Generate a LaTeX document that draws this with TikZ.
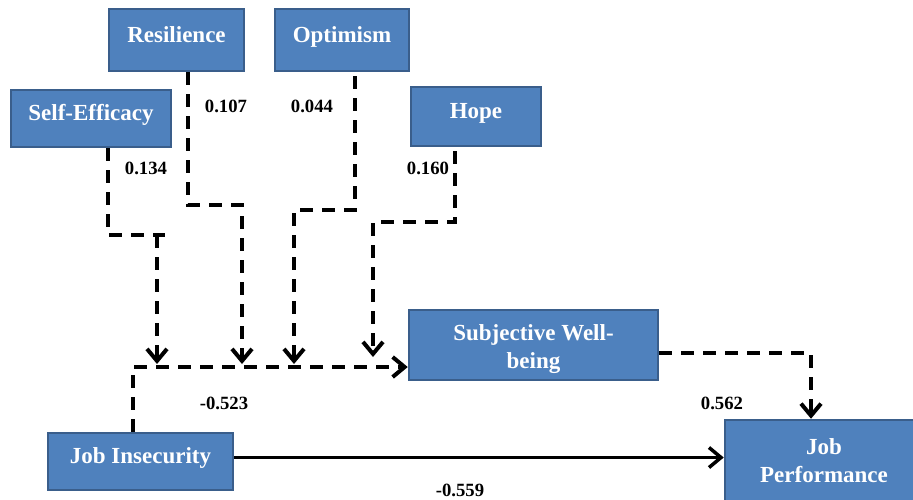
\documentclass[tikz,border=0pt]{standalone}
\usepackage{fontspec}
\setmainfont{Liberation Serif}
\usepackage{tikz}
\usetikzlibrary{arrows.meta}

\definecolor{boxfill}{HTML}{4F81BD}
\definecolor{boxedge}{HTML}{3A5E8B}
\newcommand{\boxfont}{\fontsize{23}{28}\selectfont\bfseries}
\newcommand{\coeffont}{\fontsize{18.7}{22}\selectfont\bfseries}

\begin{document}
\begin{tikzpicture}[
		x=1pt, y=-1pt,
		factor/.style={draw=boxedge, fill=boxfill, line width=2.5pt, text=white, font=\boxfont, inner sep=0pt, text height=16pt, text depth=12pt},
		coef/.style={font=\coeffont, inner sep=0pt},
		dasharrow/.style={line width=4pt, dash pattern=on 13pt off 9pt, -{Straight Barb[length=12pt, width=20pt]}},
		dashline/.style={line width=4pt, dash pattern=on 13pt off 9pt},
		solidarrow/.style={line width=3.5pt, -{Straight Barb[length=12pt, width=20pt]}}
		]
		\useasboundingbox (0,0) rectangle (913,499);
		\clip (0,0) rectangle (913,499);

		% Nodes
		\node[factor, minimum width=135pt, minimum height=62pt] (res) at (176.5,40) {Resilience};
		\node[factor, minimum width=134pt, minimum height=62pt] (opt) at (342,40) {Optimism};
		\node[factor, minimum width=160pt, minimum height=57pt] (se) at (91,118.5) {Self-Efficacy};
		\node[factor, minimum width=130pt, minimum height=59pt] (hope) at (476,116.5) {Hope};
		\node[factor, minimum width=249pt, minimum height=70pt, align=center, text height=53pt, text depth=6pt] (swb) at (533.5,345) {Subjective Well-\\being};
		\node[factor, minimum width=185pt, minimum height=57pt] (ji) at (140.5,461.5) {Job Insecurity};
		\node[factor, minimum width=198pt, minimum height=90pt, align=center, text height=40pt, text depth=6pt] (jp) at (824,465) {Job\\Performance};

		% Arrow ends on the mediating path
		\coordinate (m1) at (157,364);
		\coordinate (m2) at (242,364);
		\coordinate (m3) at (294,364);
		\coordinate (m4) at (373,357);

		% Arrows
		\draw[dashline] ([xshift=17pt]se.south) |- (165,235);
		\draw[dasharrow] (157,235) -- (m1);
		\draw[dasharrow] ([xshift=11.5pt]res.south) |- (242,205) -- (m2);
		\draw[dasharrow] ([xshift=13pt,yshift=-4pt]opt.south) |- (294,210) -- (m3);
		\draw[dasharrow] ([xshift=-21pt,yshift=-4pt]hope.south) |- (373,222) -- (m4);
		\draw[dasharrow] ([xshift=-7.5pt]ji.north) |- ([yshift=-22pt]swb.west);
		\draw[dasharrow] ([yshift=-8pt]swb.east) -| ([xshift=-13pt]jp.north);
		\draw[solidarrow] ([yshift=4pt]ji.east) -- ([yshift=4pt]ji.east -| jp.west);

		% Coefficients
		\node[coef] (c-se) at (146,168) {0.134};
		\node[coef] (c-res) at (226,106) {0.107};
		\node[coef] (c-opt) at (312,106) {0.044};
		\node[coef] (c-hope) at (428,168) {0.160};
		\node[coef] (c-ji) at (224,403) {-0.523};
		\node[coef] (c-swb) at (722,403) {0.562};
		\node[coef] (c-jp) at (460,490) {-0.559};

	\end{tikzpicture}
\end{document}
